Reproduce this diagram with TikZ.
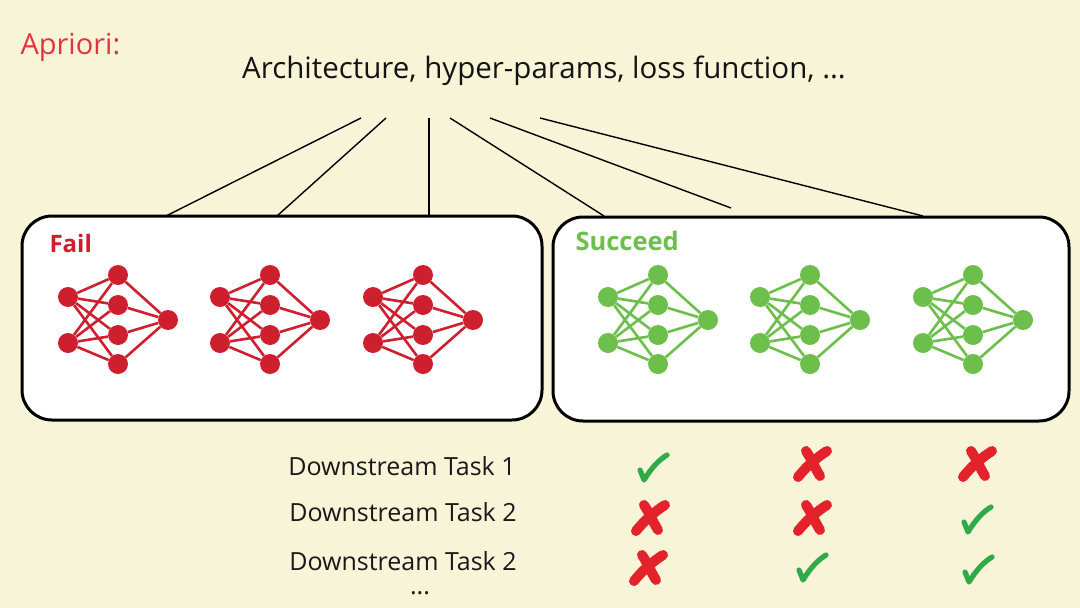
\documentclass[tikz,border=0pt]{standalone}
\usepackage{fontspec}
\setmainfont{Open Sans}
\definecolor{bgc}{HTML}{F8F4D8}
\definecolor{failred}{HTML}{CE1F2E}
\definecolor{netgreen}{HTML}{6DBF4B}
\definecolor{aprred}{HTML}{E2343F}
\definecolor{chkgreen}{HTML}{2EAA48}
\definecolor{crsred}{HTML}{E4222B}
\tikzset{
  neuron/.style={circle,fill=#1,inner sep=0pt,minimum size=20pt},
  link/.style={draw=#1,line width=2.6pt},
  panel/.style={draw=black,fill=white,line width=3pt,rounded corners=30pt},
  fan/.style={draw=black,line width=1.4pt},
  chk/.pic={\draw[chkgreen,line width=5.2pt,line cap=round,line join=round]
     (-13,2) -- (-9,12) .. controls (-1,-1) and (6,-8) .. (14,-13);},
  crs/.pic={\draw[crsred,line width=10pt,line cap=round]
     (-6,-12) .. controls (0,-3) and (3,5) .. (8,13);
     \draw[crsred,line width=10pt,line cap=round]
     (15,-12) .. controls (4,-5) and (-6,4) .. (-14,14);},
  tasklbl/.style={font=\fontsize{25}{29}\selectfont,text=black!90},
}
\newcommand{\netdraw}[3]{%
  \node[neuron=#2] (#3a1) at (#1,297) {};
  \node[neuron=#2] (#3a2) at (#1,343) {};
  \foreach \k/\yy in {1/275,2/305,3/335,4/364}
    \node[neuron=#2] (#3b\k) at (#1+50,\yy) {};
  \node[neuron=#2] (#3c) at (#1+100,320) {};
  \foreach \i in {1,2} \foreach \k in {1,...,4}
    \draw[link=#2] (#3a\i) -- (#3b\k);
  \foreach \k in {1,...,4}
    \draw[link=#2] (#3b\k) -- (#3c);
}
\begin{document}
\begin{tikzpicture}[x=1pt,y=-1pt]
\fill[bgc] (0,0) rectangle (1080,608);
\useasboundingbox (0,0) rectangle (1080,608);

\node[anchor=west,text=aprred,font=\fontsize{29}{32}\selectfont] (apriori) at (17,47) {Apriori:};
\node[font=\fontsize{29.5}{33}\selectfont,text=black!92] (title) at (544,71) {Architecture, hyper-params, loss function, ...};

% boxes
\draw[panel] (22,216) rectangle (542,420);
\node[inner sep=0pt] (failbox) at (282,318) {};
\draw[panel] (553,217) rectangle (1069,421);
\node[inner sep=0pt] (succbox) at (811,319) {};

\node[anchor=west,text=failred,font=\bfseries\fontsize{24}{28}\selectfont] (fail) at (46,243) {Fail};
\node[anchor=west,text=netgreen,font=\bfseries\fontsize{25.5}{29}\selectfont] (succeed) at (572,241) {Succeed};

% fan lines
\foreach \n/\tx/\bx/\by in {1/361/166/216, 2/386/277/216, 3/429/429/216, 4/450/604/216, 5/490/731/208, 6/540/923/216}{
  \coordinate (t\n) at (\tx,118);
  \coordinate (b\n) at (\bx,\by);
  \draw[fan] (t\n) -- (b\n);
}

% networks
\netdraw{68}{failred}{fA}
\netdraw{220}{failred}{fB}
\netdraw{373}{failred}{fC}
\netdraw{608}{netgreen}{sA}
\netdraw{760}{netgreen}{sB}
\netdraw{923}{netgreen}{sC}

% tasks
\node[tasklbl] (task1) at (402,466) {Downstream Task 1};
\node[tasklbl] (task2) at (403,512) {Downstream Task 2};
\node[tasklbl] (task3) at (403,561) {Downstream Task 2};
\node[tasklbl] (dots) at (420,593) {...};

% marks
\pic at (653,468) {chk};
\pic at (812,463) {crs};
\pic at (977,463) {crs};
\pic at (650,517) {crs};
\pic at (812,517) {crs};
\pic at (977,520) {chk};
\pic at (648,567) {crs};
\pic at (812,568) {chk};
\pic at (978,570) {chk};
\end{tikzpicture}
\end{document}
